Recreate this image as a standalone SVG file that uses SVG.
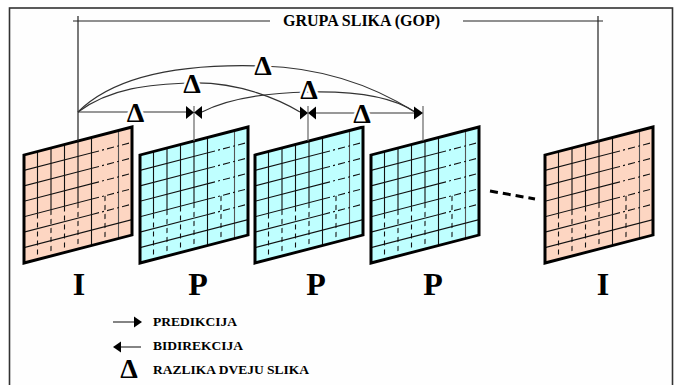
<svg xmlns="http://www.w3.org/2000/svg" xmlns:xlink="http://www.w3.org/1999/xlink" width="675" height="385" viewBox="0 0 675 385">
  <style>
    .frame-i { fill: #fdd6c2; }
    .frame-p { fill: #bfffff; }
    .edge { fill: none; stroke: #000; stroke-width: 3; stroke-linejoin: miter; }
    .g { stroke: #111; stroke-width: 1.1; fill: none; }
    .gl { stroke: #555; stroke-width: 1.1; fill: none; }
    .gd { stroke: #111; stroke-width: 1.1; fill: none; stroke-dasharray: 5 4; }
    .gdd { stroke: #111; stroke-width: 1.1; fill: none; stroke-dasharray: 7 3 2 3; }
    .lead { stroke: #222; stroke-width: 1.2; fill: none; }
    .tick { stroke: #666; stroke-width: 1.2; fill: none; }
    .link { stroke: #333; stroke-width: 1.2; fill: none; }
    .head { fill: #000; }
    .delta { font-family: "Liberation Serif", "Times New Roman", serif; font-weight: bold; font-size: 28px; fill: #000; text-anchor: middle; stroke: #fff; stroke-width: 5; paint-order: stroke; }
    .kind { font-family: "Liberation Serif", "Times New Roman", serif; font-weight: bold; font-size: 32px; fill: #000; text-anchor: middle; }
    .caption { font-family: "Liberation Serif", "Times New Roman", serif; font-weight: bold; font-size: 16px; fill: #000; }
    .legend { font-family: "Liberation Serif", "Times New Roman", serif; font-weight: bold; font-size: 13.5px; fill: #000; }
  </style>
  <defs>
    <!-- 8 x 7 block grid of one picture, in the picture's own (unskewed) 108 x 108 space -->
    <g id="grid">
      <path class="g" d="M13.5,0V62M27,0V62M40.5,0V62M54,0V62"/>
      <path class="gd" d="M13.5,62V108M27,62V108M40.5,62V108M54,62V108M81,62V108"/>
      <path class="g" d="M67.5,0V108"/>
      <path class="gl" d="M94.5,0V108"/>
      <path class="g" d="M0,15.4H68M0,30.9H68M0,46.3H68M0,61.7H68M0,77.1H68"/>
      <path class="gdd" d="M68,15.4H108M68,30.9H108M68,46.3H108M68,61.7H108M68,77.1H108"/>
      <path class="g" d="M0,92.6H108"/>
    </g>
    <rect id="sheet" x="0" y="0" width="108" height="108"/>
  </defs>

  <rect x="0" y="0" width="675" height="385" fill="#fff"/>
  <rect x="9.5" y="8" width="663" height="390" fill="#fefefe" stroke="#333" stroke-width="1.6"/>

  <!-- pictures of the group -->
  <g id="frame-i1" transform="matrix(1 -0.2593 0 1 24 155)">
    <use xlink:href="#sheet" class="frame-i"/>
    <use xlink:href="#grid"/>
    <use xlink:href="#sheet" class="edge"/>
  </g>
  <g id="frame-p1" transform="matrix(1 -0.2593 0 1 140 155)">
    <use xlink:href="#sheet" class="frame-p"/>
    <use xlink:href="#grid"/>
    <use xlink:href="#sheet" class="edge"/>
  </g>
  <g id="frame-p2" transform="matrix(1 -0.2593 0 1 255 155)">
    <use xlink:href="#sheet" class="frame-p"/>
    <use xlink:href="#grid"/>
    <use xlink:href="#sheet" class="edge"/>
  </g>
  <g id="frame-p3" transform="matrix(1 -0.2593 0 1 371 155)">
    <use xlink:href="#sheet" class="frame-p"/>
    <use xlink:href="#grid"/>
    <use xlink:href="#sheet" class="edge"/>
  </g>
  <g id="frame-i2" transform="matrix(1 -0.2593 0 1 545 155)">
    <use xlink:href="#sheet" class="frame-i"/>
    <use xlink:href="#grid"/>
    <use xlink:href="#sheet" class="edge"/>
  </g>

  <!-- picture type labels -->
  <g id="labels">
    <text class="kind" x="79" y="295">I</text>
    <text class="kind" x="198" y="295">P</text>
    <text class="kind" x="316" y="295">P</text>
    <text class="kind" x="433" y="295">P</text>
    <text class="kind" x="603" y="295">I</text>
  </g>

  <!-- group of pictures bracket -->
  <g id="gop">
    <path class="lead" d="M73,21H270M463,21H603M78,16V141M598,16V141"/>
    <text class="caption" x="283" y="26">GRUPA SLIKA (GOP)</text>
  </g>

  <!-- prediction connectors -->
  <g id="connectors">
    <path class="tick" d="M194,106V141M308,106V141M423,106V141"/>
    <path class="link" d="M78,112H187"/>
    <path class="link" d="M78,112C120,70 200,64 263,66C330,68 380,90 415,112"/>
    <path class="link" d="M78,112C110,88 150,84 192,83C240,82 280,100 300,112"/>
    <path class="link" d="M202,112C225,100 260,93 308,92C350,91 390,95 415,112"/>
    <path class="link" d="M316,113H415"/>
    <path class="head" d="M186,106L194,112.5L186,119Z"/>
    <path class="head" d="M202,106L194,112.5L202,119Z"/>
    <path class="head" d="M300,106.5L308,113L300,119.5Z"/>
    <path class="head" d="M316,106.5L308,113L316,119.5Z"/>
    <path class="head" d="M414,106.5L423,113L414,119.5Z"/>
    <text class="delta" x="135.5" y="122">Δ</text>
    <text class="delta" x="192" y="93">Δ</text>
    <text class="delta" x="263" y="75">Δ</text>
    <text class="delta" x="309" y="99">Δ</text>
    <text class="delta" x="362" y="123">Δ</text>
    <path d="M490,191L535,199" stroke="#000" stroke-width="3" stroke-dasharray="8 5" fill="none"/>
  </g>

  <!-- legend -->
  <g id="legend">
    <path class="link" d="M113,322H135"/>
    <path class="head" d="M134,316.5L142,322L134,327.5Z"/>
    <text class="legend" x="153" y="326">PREDIKCIJA</text>
    <path class="link" d="M120,347H141"/>
    <path class="head" d="M121,341.5L113,347L121,352.5Z"/>
    <text class="legend" x="153" y="350">BIDIREKCIJA</text>
    <text class="delta" x="129" y="378" style="stroke:none">Δ</text>
    <text class="legend" x="153" y="374">RAZLIKA DVEJU SLIKA</text>
  </g>
</svg>
